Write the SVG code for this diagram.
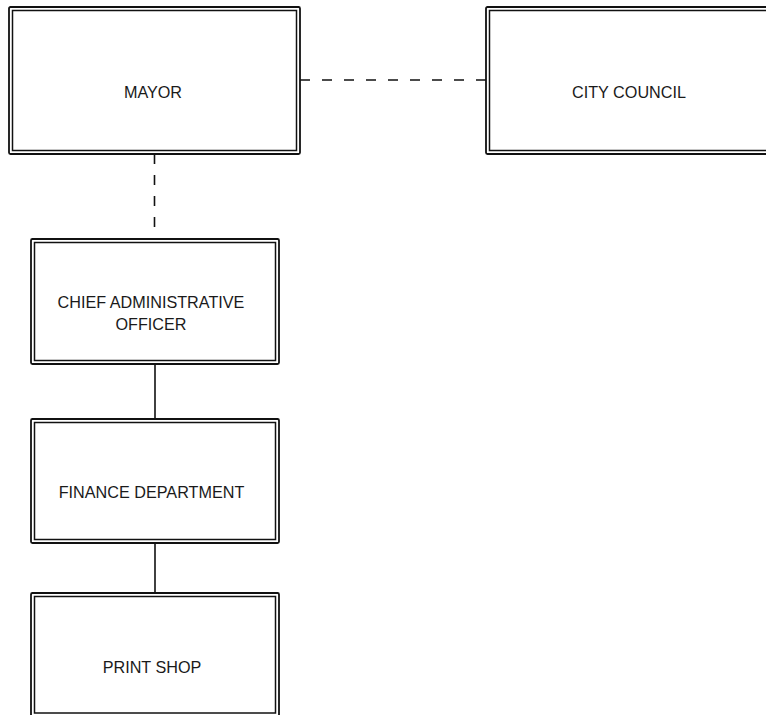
<svg xmlns="http://www.w3.org/2000/svg" width="766" height="715" viewBox="0 0 766 715">
  <style>
    .outer { fill: #ffffff; stroke: #111111; stroke-width: 1.8; }
    .inner { fill: none; stroke: #111111; stroke-width: 1.5; }
    .label { font-family: "Liberation Sans", Arial, sans-serif; font-size: 16.2px; fill: #1a1a1a; text-anchor: middle; }
    .link { stroke: #111111; stroke-width: 1.6; fill: none; }
    .dashed { stroke-dasharray: 10 11; }
    .dashed-wide { stroke-dasharray: 10 12; }
  </style>

  <!-- connectors -->
  <g id="connectors">
    <line class="link dashed-wide" x1="300" y1="80" x2="486" y2="80"/>
    <line class="link dashed" x1="154.5" y1="154" x2="154.5" y2="239"/>
    <line class="link" x1="155" y1="364" x2="155" y2="419"/>
    <line class="link" x1="155" y1="543" x2="155" y2="593"/>
  </g>

  <!-- nodes: double-bordered boxes -->
  <g id="mayor">
    <rect class="outer" x="9" y="7" width="291" height="147" rx="1.5"/>
    <rect class="inner" x="12.5" y="10.5" width="284" height="140"/>
    <text class="label" x="153" y="98">MAYOR</text>
  </g>

  <g id="city-council">
    <rect class="outer" x="486" y="7" width="290" height="147" rx="1.5"/>
    <rect class="inner" x="489.5" y="10.5" width="290" height="140"/>
    <text class="label" x="629" y="98">CITY COUNCIL</text>
  </g>

  <g id="chief-administrative-officer">
    <rect class="outer" x="31" y="239" width="248" height="125" rx="1.5"/>
    <rect class="inner" x="34.5" y="242.5" width="241" height="118"/>
    <text class="label" x="151" y="308">CHIEF ADMINISTRATIVE</text>
    <text class="label" x="151" y="330">OFFICER</text>
  </g>

  <g id="finance-department">
    <rect class="outer" x="31" y="419" width="248" height="124" rx="1.5"/>
    <rect class="inner" x="34.5" y="422.5" width="241" height="117"/>
    <text class="label" x="151.5" y="498">FINANCE DEPARTMENT</text>
  </g>

  <g id="print-shop">
    <rect class="outer" x="31" y="593" width="248" height="124" rx="1.5"/>
    <rect class="inner" x="34.5" y="596.5" width="241" height="116.5"/>
    <text class="label" x="152" y="673">PRINT SHOP</text>
  </g>
</svg>
